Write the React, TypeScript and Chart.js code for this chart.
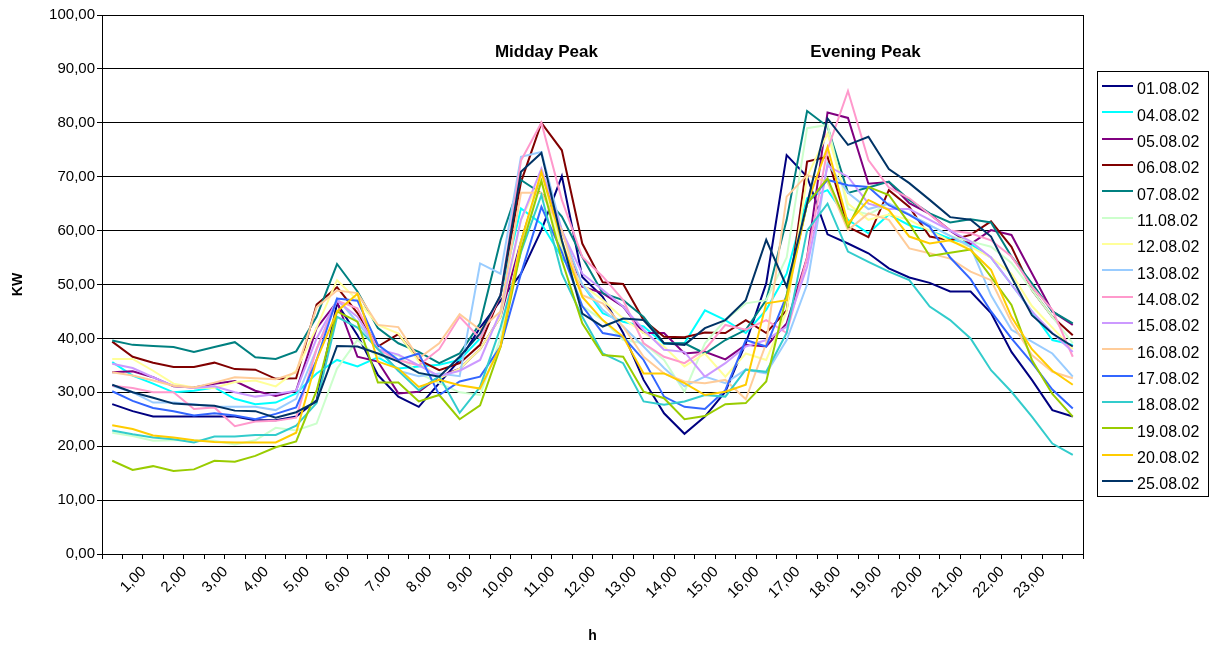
import { useEffect, useRef } from 'react';
import { Chart, registerables } from 'chart.js';

Chart.register(...registerables);

const FONT = "Arial, 'Liberation Sans', sans-serif";

const tickLabels = [
  '', '1,00', '', '2,00', '', '3,00', '', '4,00', '', '5,00', '', '6,00',
  '', '7,00', '', '8,00', '', '9,00', '', '10,00', '', '11,00', '', '12,00',
  '', '13,00', '', '14,00', '', '15,00', '', '16,00', '', '17,00', '', '18,00',
  '', '19,00', '', '20,00', '', '21,00', '', '22,00', '', '23,00', '', '',
];

const seriesNames = [
  '01.08.02', '04.08.02', '05.08.02', '06.08.02', '07.08.02', '11.08.02', '12.08.02', '13.08.02',
  '14.08.02', '15.08.02', '16.08.02', '17.08.02', '18.08.02', '19.08.02', '20.08.02', '25.08.02',
];

const seriesColors = [
  '#000080', '#00FFFF', '#800080', '#800000', '#008080', '#CCFFCC', '#FFFF99', '#99CCFF',
  '#FF99CC', '#CC99FF', '#FFCC99', '#3366FF', '#33CCCC', '#99CC00', '#FFCC00', '#003366',
];

const d0108 = [27.8, 26.5, 25.5, 25.5, 25.5, 25.5, 25.5, 24.8, 24.8, 25.5, 28.5, 46.5, 40.6, 33.2, 29.2, 27.3, 31.7, 36, 42, 47, 52, 60.1, 70.1, 51.4, 47.7, 41, 32.3, 26.1, 22.3, 25.5, 30.1, 39.1, 50.2, 74, 70, 59.3, 57.6, 55.8, 53, 51.3, 50.3, 48.7, 48.7, 44.7, 37.5, 32.3, 26.7, 25.5];
const d0408 = [35.6, 33.1, 31.6, 30, 30.3, 30.9, 28.8, 27.8, 28.1, 29.8, 33.5, 36, 34.8, 36.5, 34.4, 34.8, 35.1, 36, 40, 48, 64.1, 61.3, 55, 50, 44.7, 43.1, 42.2, 39, 39.1, 45.2, 43.4, 41, 45.3, 52, 66, 67.5, 62, 59.5, 63, 61, 60, 58.5, 57.5, 55, 50, 45, 39.7, 38.8];
const d0508 = [33.7, 33.9, 32.8, 31.1, 30.9, 31.6, 32.1, 30.3, 29.3, 30.3, 41.9, 46.8, 36.6, 35.7, 29.8, 30.1, 32.9, 34.4, 38, 44, 58, 70.1, 60, 49.6, 48.4, 45.9, 41, 41, 37.2, 37.5, 36.1, 38.8, 38.5, 42.8, 55, 81.9, 80.9, 68.7, 69, 65.1, 63.1, 60, 57.5, 60.1, 59.2, 52.1, 45, 42.5];
const d0608 = [39.4, 36.6, 35.5, 34.7, 34.7, 35.5, 34.3, 34.2, 32.5, 32.6, 46.3, 49.5, 44.7, 38.5, 40.8, 36, 34.1, 35.4, 38.8, 48, 69, 80, 74.9, 57.6, 50.4, 50.1, 43.4, 40.3, 40.2, 41.1, 41, 43.4, 41, 45.2, 72.8, 73.7, 60.7, 58.8, 67.5, 64.4, 58.9, 58.2, 59.2, 61.7, 57, 49, 44, 40.6];
const d0708 = [39.6, 38.8, 38.6, 38.4, 37.5, 38.4, 39.3, 36.5, 36.2, 37.6, 44, 53.8, 48.7, 41.9, 39.1, 37.5, 35.4, 37.2, 42.8, 58.2, 69.4, 66.9, 62.6, 55.1, 48.4, 47.1, 44, 39.1, 39.1, 37.2, 39.7, 41.6, 47.1, 62, 82.2, 79.3, 67, 68, 69.1, 65.7, 63.2, 61.5, 62.1, 61.5, 55.2, 50.2, 45, 42.8];
const d1108 = [22.5, 21.9, 21, 21.1, 21.1, 21, 20.3, 21.1, 23.4, 22.9, 24.2, 34.4, 39.7, 36.6, 36.9, 33.5, 31.7, 30, 29.5, 40, 58, 69.4, 57, 46, 43.4, 39.7, 39.1, 36, 30.1, 39.1, 43.4, 46.5, 47.1, 55, 79, 79.6, 64, 63, 65, 63, 61, 59, 58, 57, 54, 49, 44, 39.1];
const d1208 = [36.2, 36.2, 34, 31.6, 30.9, 30.8, 31.9, 32.2, 31.1, 34, 42, 50.8, 47.1, 42.5, 40.9, 35.7, 32.6, 34.4, 38, 44, 62, 70, 56, 50, 47.1, 43.7, 41, 38.5, 34.8, 37.2, 32.9, 37.2, 36, 45, 70, 78, 65, 62, 63, 62, 60, 58, 57, 55, 52, 46, 42, 38];
const d1308 = [31.2, 30, 28.1, 28.1, 27.8, 27.3, 27.3, 27.3, 26.7, 28.8, 38, 47.4, 43, 38, 34, 33, 33.5, 33, 53.9, 52, 73.7, 74.6, 60, 50, 45.3, 42.2, 38.5, 34.5, 31.1, 32.9, 31.7, 34.2, 33.5, 39.7, 50, 72.5, 67, 64, 65, 63, 61, 59, 57, 48, 41.6, 39.4, 37.2, 32.9];
const d1408 = [31.2, 30.8, 30, 30, 26.9, 27.2, 23.7, 24.6, 24.7, 25.3, 38, 47, 45.6, 38, 36, 35, 38, 44, 40, 48, 73, 80, 65.7, 55.1, 51.5, 47.1, 39.1, 36.6, 35.4, 37.9, 42.5, 41.6, 43.4, 41, 55, 75, 85.9, 73.1, 68, 66, 63, 60, 59.5, 58.2, 55.2, 49.6, 45.3, 36.6];
const d1508 = [35.3, 34.5, 32.8, 31.2, 30.8, 31.1, 30, 29.2, 29.7, 30.3, 40, 47, 44, 38, 37, 35, 33, 34, 36, 45, 62, 71.5, 60, 52, 49, 45.9, 41.6, 37.9, 37.5, 32.9, 35.4, 38.5, 39.7, 42.2, 53.3, 72, 70, 65, 64, 64, 62, 60, 58, 55, 50, 45, 41, 37.5];
const d1608 = [33.7, 33.1, 32.2, 31.2, 30.9, 31.8, 32.8, 32.6, 32.4, 33.7, 45.8, 48.9, 48.4, 42.5, 42.1, 36.3, 39.1, 44.5, 41.6, 45, 67, 67, 60, 48, 46.5, 42.2, 36.6, 33.5, 32, 31.7, 32.3, 28.7, 39.1, 66.3, 70.3, 69, 60.1, 63.2, 62, 56.7, 55.8, 54.8, 52.4, 50.8, 43, 36.9, 33.8, 32.6];
const d1708 = [30.2, 28.4, 27.1, 26.5, 25.7, 26.1, 25.7, 25, 26, 27.2, 36, 47.4, 47, 38.8, 36, 37.2, 29.5, 32, 32.9, 38.5, 52, 64.4, 56, 46, 41, 40.3, 36, 29.2, 27.3, 26.9, 30.4, 39.7, 38.5, 48, 65, 69.4, 68.4, 68.1, 64.7, 62.9, 60.7, 55, 51, 45, 40, 35.5, 30.5, 27];
const d1808 = [22.9, 22.2, 21.6, 21.3, 20.7, 21.8, 21.8, 22.1, 22.1, 23.8, 28, 44, 42, 38, 34, 30.4, 33, 26.2, 31, 42, 56, 66.6, 52, 44, 37.2, 35.4, 28.3, 27.7, 28.3, 29.5, 29.2, 34.2, 33.8, 41, 60, 65, 56.1, 54.2, 52.4, 50.8, 45.9, 43.4, 40, 34.1, 30.1, 25.5, 20.5, 18.4];
const d1908 = [17.3, 15.6, 16.3, 15.4, 15.7, 17.3, 17.1, 18.2, 19.8, 20.9, 30.3, 45, 43.1, 31.8, 31.8, 28.3, 29.5, 25, 27.6, 38.4, 56.4, 69.2, 54.5, 42.8, 36.9, 36.6, 30.1, 28.9, 25, 25.6, 27.8, 28, 32, 48, 65, 69.7, 60.7, 68.1, 66.6, 61.3, 55.3, 55.9, 56.5, 51.4, 46.2, 36, 29.7, 25.5];
const d2008 = [23.9, 23.2, 22, 21.6, 21.1, 20.8, 20.7, 20.7, 20.7, 22.5, 36, 45, 48.3, 35.7, 34.4, 31, 32.3, 31.3, 30.7, 38.5, 58, 70.9, 58, 47.7, 43.4, 40.3, 33.5, 33.5, 31.7, 29.5, 30.1, 31.4, 46.5, 47.1, 65, 75.5, 61.3, 65.7, 63.8, 58.9, 57.6, 58.2, 56.4, 52.7, 44, 38, 34, 31.4];
const d2508 = [31.4, 30, 29, 27.9, 27.7, 27.5, 26.6, 26.5, 25.3, 26.3, 28.3, 38.6, 38.5, 37.2, 35.7, 33.6, 32.9, 36.6, 40.9, 48, 70.9, 74.4, 58.2, 44.6, 42.2, 43.7, 43.4, 39.1, 38.8, 41.9, 43.4, 47.1, 58.3, 49.6, 65, 80.8, 75.9, 77.4, 71.4, 68.8, 65.7, 62.5, 62, 58.9, 51.4, 44.3, 40.9, 38.5];

const seriesValues = [d0108, d0408, d0508, d0608, d0708, d1108, d1208, d1308, d1408, d1508, d1608, d1708, d1808, d1908, d2008, d2508];

const annotations = [
  { text: 'Midday Peak', index: 21, value: 93, dx: 5 },
  { text: 'Evening Peak', index: 37, value: 93, dx: -3 },
];

export default function App() {
  const ref = useRef<HTMLCanvasElement>(null);

  useEffect(() => {
    document.body.style.margin = '0';
    const canvas = ref.current;
    if (!canvas) return;

    const decor = {
      id: 'decor',
      afterDraw(chart: any) {
        const { ctx, chartArea: a, scales } = chart;
        ctx.save();
        ctx.strokeStyle = '#000';
        ctx.lineWidth = 1;
        ctx.strokeRect(Math.round(a.left) + 0.5, Math.round(a.top) + 0.5, Math.round(a.right - a.left), Math.round(a.bottom - a.top));

        ctx.fillStyle = '#000';
        ctx.font = `bold 17px ${FONT}`;
        ctx.textAlign = 'center';
        ctx.textBaseline = 'middle';
        annotations.forEach((an) => {
          const x = scales.x.getPixelForValue(an.index) + an.dx;
          const y = scales.y.getPixelForValue(an.value);
          ctx.fillText(an.text, x, y);
        });

        const bx = 1097, by = 71, bw = 111, bh = 425;
        ctx.strokeStyle = '#000';
        ctx.lineWidth = 1;
        ctx.strokeRect(bx + 0.5, by + 0.5, bw, bh);
        ctx.font = `16px ${FONT}`;
        ctx.textAlign = 'left';
        ctx.textBaseline = 'middle';
        seriesNames.forEach((name, i) => {
          const y = by + 15 + i * 26.33;
          ctx.strokeStyle = seriesColors[i];
          ctx.lineWidth = 2;
          ctx.beginPath();
          ctx.moveTo(bx + 5, Math.round(y));
          ctx.lineTo(bx + 36, Math.round(y));
          ctx.stroke();
          ctx.fillStyle = '#000';
          ctx.fillText(name, bx + 40, y + 4);
        });
        ctx.restore();
      },
    };

    const chart = new Chart(canvas, {
      type: 'line',
      data: {
        labels: tickLabels,
        datasets: seriesNames.map((name, i) => ({
          label: name,
          data: seriesValues[i],
          borderColor: seriesColors[i],
          backgroundColor: seriesColors[i],
          borderWidth: 2,
          pointRadius: 0,
          pointHoverRadius: 0,
          tension: 0,
          fill: false,
          order: -i,
        })),
      },
      options: {
        responsive: false,
        animation: false,
        devicePixelRatio: 1,
        layout: { padding: { top: 15, right: 138, left: 0, bottom: 0 } },
        plugins: {
          legend: { display: false },
          tooltip: { enabled: false },
        },
        scales: {
          x: {
            type: 'category',
            offset: true,
            grid: { display: true, drawOnChartArea: false, drawTicks: true, tickLength: 5, color: '#000', offset: true },
            border: { color: '#000' },
            ticks: {
              autoSkip: false,
              maxRotation: 45,
              minRotation: 45,
              color: '#000',
              padding: 4,
              labelOffset: 11,
              font: { family: FONT, size: 15 },
            },
            title: {
              display: true,
              text: 'h',
              color: '#000',
              font: { family: FONT, size: 14, weight: 'bold' },
              padding: { top: 1, bottom: 0 },
            },
            afterFit: (s: any) => { s.height = 91; },
          },
          y: {
            min: 0,
            max: 100,
            grid: { color: '#000', tickLength: 5, drawTicks: true },
            border: { color: '#000' },
            ticks: {
              stepSize: 10,
              color: '#000',
              padding: 2,
              font: { family: FONT, size: 15 },
              callback: (v: any) => Number(v).toFixed(2).replace('.', ','),
            },
            title: {
              display: true,
              text: 'KW',
              color: '#000',
              font: { family: FONT, size: 14, weight: 'bold' },
              padding: { top: 10, bottom: 0 },
            },
            afterFit: (s: any) => { s.width = 102; },
          },
        },
      },
      plugins: [decor],
    } as any);

    return () => chart.destroy();
  }, []);

  return (
    <div style={{ width: 1221, height: 645, background: '#fff' }}>
      <canvas ref={ref} width={1221} height={645} style={{ display: 'block' }} />
    </div>
  );
}
